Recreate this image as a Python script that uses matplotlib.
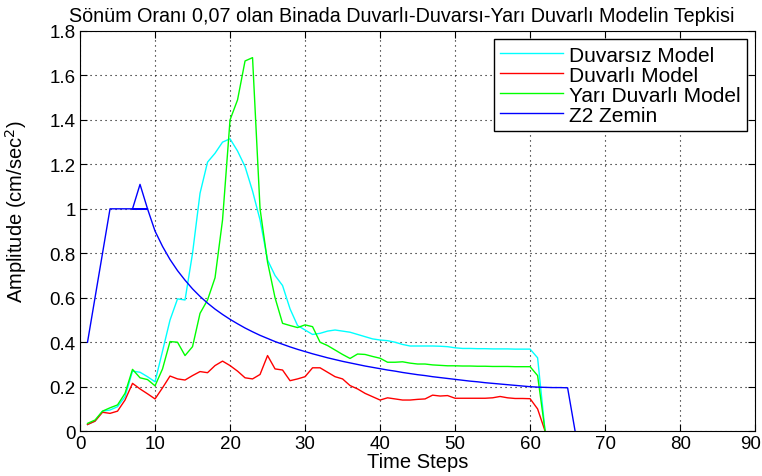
import matplotlib
matplotlib.use("Agg")
import matplotlib.pyplot as plt
import matplotlib.transforms as mtransforms
from matplotlib.ticker import FormatStrFormatter

plt.rcParams['font.family'] = ['Liberation Sans', 'DejaVu Sans']

# zaman adimlari (1..62)
steps = list(range(1, 63))

duvarsiz = [0.03, 0.045, 0.09, 0.095, 0.11, 0.155, 0.27, 0.265, 0.245, 0.222,
            0.36, 0.50, 0.595, 0.59, 0.80, 1.07, 1.21, 1.25, 1.30, 1.315,
            1.26, 1.19, 1.08, 0.95, 0.77, 0.70, 0.655, 0.55, 0.475, 0.455,
            0.435, 0.44, 0.45, 0.455, 0.45, 0.445, 0.435, 0.425, 0.415, 0.41,
            0.407, 0.40, 0.39, 0.383, 0.383, 0.383, 0.383, 0.382, 0.38, 0.375,
            0.372, 0.372, 0.371, 0.371, 0.370, 0.370, 0.370, 0.369, 0.369, 0.369,
            0.33, 0.0]

duvarli = [0.03, 0.045, 0.085, 0.08, 0.09, 0.14, 0.215, 0.19, 0.168, 0.145,
           0.195, 0.248, 0.235, 0.23, 0.25, 0.268, 0.263, 0.295, 0.315, 0.295,
           0.27, 0.24, 0.235, 0.255, 0.34, 0.28, 0.275, 0.227, 0.235, 0.245,
           0.285, 0.285, 0.265, 0.245, 0.235, 0.205, 0.19, 0.17, 0.155, 0.14,
           0.15, 0.145, 0.14, 0.14, 0.143, 0.145, 0.162, 0.158, 0.16, 0.148,
           0.148, 0.148, 0.148, 0.148, 0.15, 0.156, 0.15, 0.147, 0.147, 0.146,
           0.10, 0.0]

yari_duvarli = [0.035, 0.05, 0.09, 0.105, 0.118, 0.17, 0.278, 0.24, 0.232, 0.204,
                0.28, 0.403, 0.40, 0.34, 0.38, 0.53, 0.59, 0.69, 0.95, 1.40,
                1.49, 1.665, 1.68, 1.0, 0.76, 0.60, 0.485, 0.475, 0.466, 0.478,
                0.47, 0.40, 0.385, 0.365, 0.345, 0.327, 0.347, 0.345, 0.336, 0.328,
                0.31, 0.31, 0.312, 0.306, 0.302, 0.302, 0.298, 0.296, 0.294, 0.294,
                0.293, 0.293, 0.292, 0.292, 0.291, 0.291, 0.291, 0.290, 0.290, 0.290,
                0.25, 0.0]

# zemin hareketi (4-9 arasi duz, 8'de tepe)
zemin_t = [1, 2, 3, 4, 9, 7, 8, 9, 10, 11, 12, 13, 14, 15, 16, 17, 18, 19, 20,
           21, 22, 23, 24, 25, 26, 27, 28, 29, 30, 31, 32, 33, 34, 35, 36, 37, 38,
           39, 40, 41, 42, 43, 44, 45, 46, 47, 48, 49, 50, 51, 52, 53, 54, 55, 56,
           57, 58, 59, 60, 61, 62, 63, 64, 65, 66]
zemin = [0.4, 0.6, 0.8, 1.0, 1.0, 1.0, 1.11, 1.0, 0.90, 0.831, 0.772, 0.722, 0.679,
         0.640, 0.606, 0.576, 0.549, 0.525, 0.503, 0.483, 0.464, 0.447, 0.431,
         0.417, 0.403, 0.391, 0.379, 0.368, 0.358, 0.348, 0.339, 0.330, 0.322,
         0.314, 0.307, 0.300, 0.293, 0.287, 0.281, 0.275, 0.270, 0.264, 0.259,
         0.254, 0.250, 0.245, 0.241, 0.237, 0.233, 0.229, 0.225, 0.222, 0.218,
         0.215, 0.212, 0.209, 0.206, 0.203, 0.200, 0.198, 0.197, 0.196, 0.196,
         0.195, 0.0]

fig = plt.figure(figsize=(7.62, 4.77), dpi=100)
ax = fig.add_axes([0.105, 0.094, 0.886, 0.839])

ax.plot(steps, duvarsiz, color='#00ffff', lw=1.0, label='Duvarsız Model')
ax.plot(steps, duvarli, color='#ff0000', lw=1.0, label='Duvarlı Model')
ax.plot(steps, yari_duvarli, color='#00ff00', lw=1.0, label='Yarı Duvarlı Model')
ax.plot(zemin_t, zemin, color='#0000ff', lw=1.0, label='Z2 Zemin')

ax.set_xlim(0, 90)
ax.set_ylim(0, 1.8)
ax.set_xticks(range(0, 91, 10))
ax.set_yticks([i * 0.2 for i in range(10)])
ax.yaxis.set_major_formatter(FormatStrFormatter('%g'))
ax.tick_params(direction='in', top=True, right=True, length=5, labelsize=13.5, pad=3)
ax.grid(True, color='black', linestyle=(0, (1, 3.5)), linewidth=0.8)

# son x etiketini (90) kenardan biraz iceri al
last = ax.xaxis.get_major_ticks()[-1].label1
last.set_transform(last.get_transform() +
                   mtransforms.ScaledTranslation(-0.05, 0, fig.dpi_scale_trans))

ax.set_title('Sönüm Oranı 0,07 olan Binada Duvarlı-Duvarsı-Yarı Duvarlı Modelin Tepkisi',
             fontsize=14.2, pad=7, x=0.476)
ax.set_xlabel('Time Steps', fontsize=14.5, labelpad=0)
ax.set_ylabel('Amplitude (cm/sec$^2$)', fontsize=14.5)
ax.yaxis.set_label_coords(-0.076, 0.55)

leg = ax.legend(loc='upper right', fontsize=15, fancybox=False, framealpha=1,
                edgecolor='black', handlelength=3.0, handletextpad=0.3,
                borderaxespad=0.4, borderpad=0.3, labelspacing=0.05)
leg.get_frame().set_linewidth(1.0)

fig.savefig('out.png', dpi=100)
